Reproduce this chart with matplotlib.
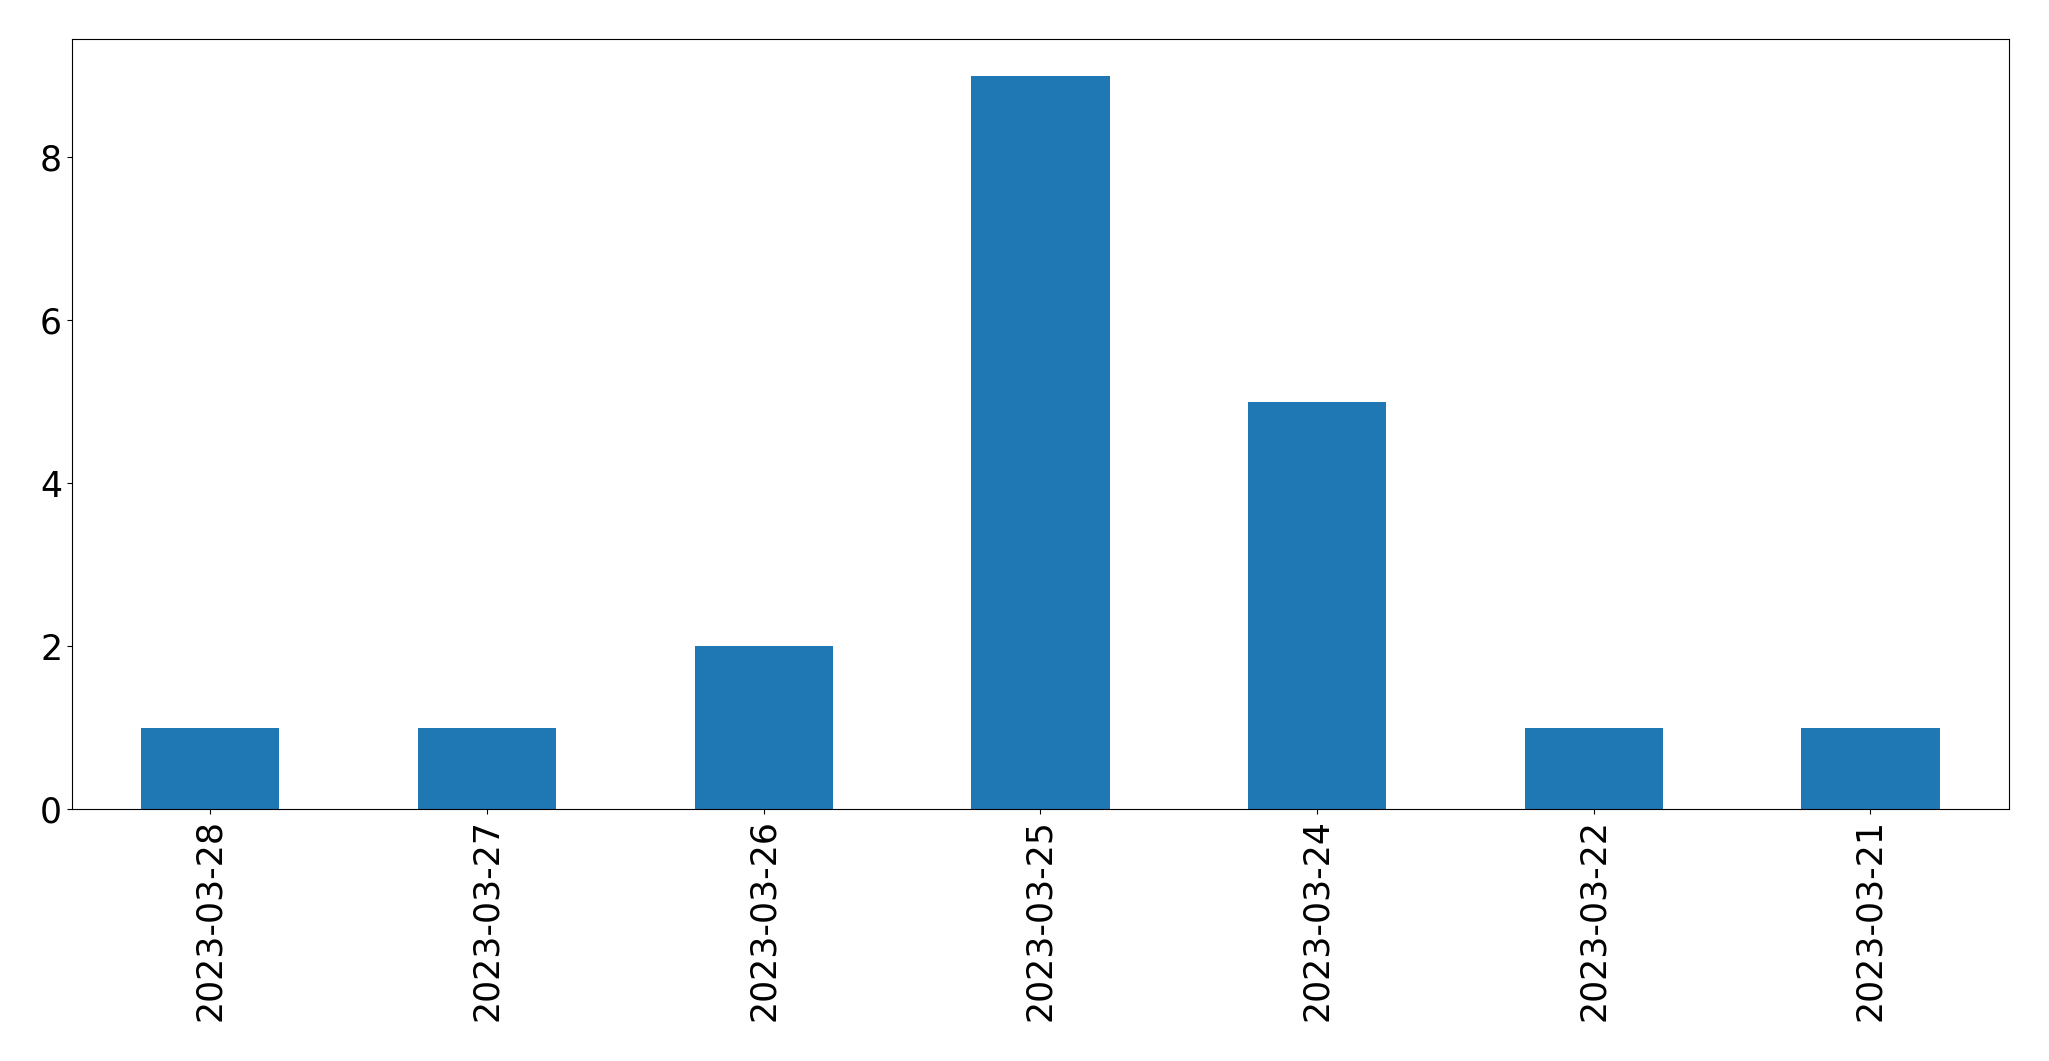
import matplotlib
matplotlib.use('Agg')
import matplotlib.pyplot as plt

# -------------------------------------------------------------------
dates = ['2023-03-28', '2023-03-27', '2023-03-26', '2023-03-25',
         '2023-03-24', '2023-03-22', '2023-03-21']
counts = [1, 1, 2, 9, 5, 1, 1]

# ===================================================================

fig = plt.figure(figsize=(20.49, 10.61), dpi=100)
ax = fig.add_axes([0.0351, 0.2375, 0.9453, 0.7257])

positions = range(len(dates))
ax.bar(positions, counts, width=0.5, color='#1f77b4')
ax.set_xlim(-0.5, len(dates) - 0.5)
ax.set_xticks(list(positions))
ax.set_xticklabels(dates, rotation=90)
ax.tick_params(labelsize=25)

fig.savefig('out.png', dpi=100)
